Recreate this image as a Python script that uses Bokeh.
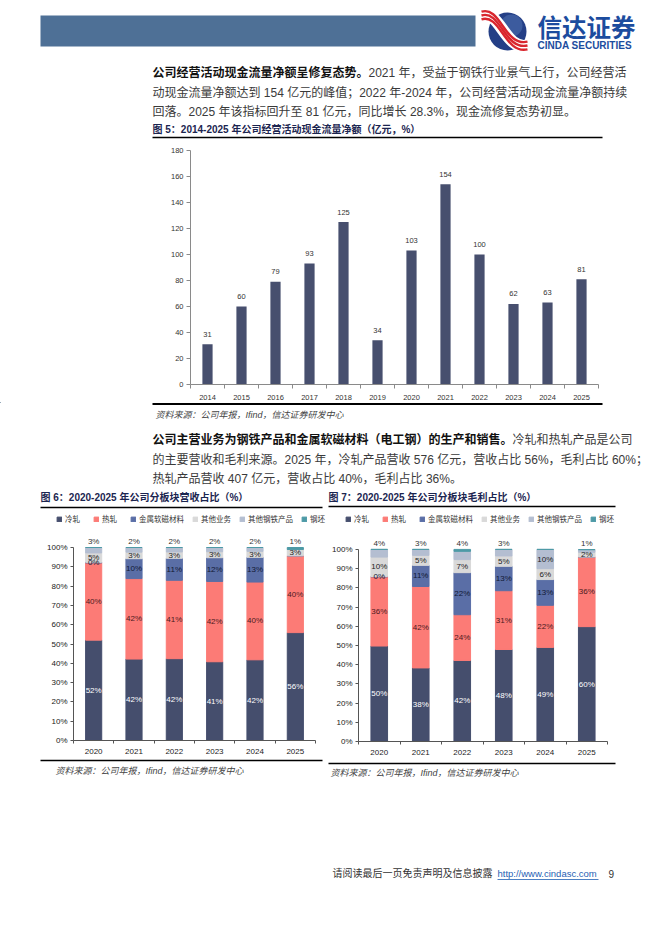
from bokeh.plotting import figure
from bokeh.layouts import column, row
from bokeh.models import (Range1d, FixedTicker, Legend, LegendItem,
                          ColumnDataSource, PrintfTickFormatter)
from bokeh.core.properties import value
from bokeh.embed import file_html
from bokeh.resources import INLINE

# ---------------- data ----------------
cf_years = ["2014", "2015", "2016", "2017", "2018", "2019",
            "2020", "2021", "2022", "2023", "2024", "2025"]
cf_values = [31, 60, 79, 93, 125, 34, 103, 154, 100, 62, 63, 81]

seg_names = ["冷轧", "热轧", "金属软磁材料", "其他业务", "其他钢铁产品", "钢坯"]
seg_keys = ["cold", "hot", "mag", "otherbiz", "othersteel", "billet"]
share_years = ["2020", "2021", "2022", "2023", "2024", "2025"]

rev_cold = [52.0, 42.2, 42.4, 40.8, 41.8, 55.9]
rev_hot = [40.0, 41.7, 40.6, 41.6, 40.3, 39.8]
rev_mag = [0.3, 10.3, 11.4, 12.3, 12.8, 0.0]
rev_otherbiz = [4.9, 3.4, 3.3, 3.1, 3.1, 3.3]
rev_othersteel = [2.8, 2.4, 2.3, 2.2, 2.0, 0.0]
rev_billet = [0.0, 0.0, 0.0, 0.0, 0.0, 1.0]

gp_cold = [49.7, 38.3, 42.2, 47.9, 49.0, 59.8]
gp_hot = [36.0, 42.4, 23.8, 30.6, 21.9, 36.3]
gp_mag = [0.2, 11.0, 21.9, 12.7, 13.4, 0.0]
gp_otherbiz = [10.1, 5.2, 6.8, 5.4, 5.7, 2.4]
gp_othersteel = [4.0, 3.1, 4.3, 3.4, 10.0, 1.4]
gp_billet = [0.0, 0.0, 1.0, 0.0, 0.0, 0.0]

para1 = [("公司经营活动现金流量净额呈修复态势。", "2021 年，受益于钢铁行业景气上行，公司经营活"),
         ("", "动现金流量净额达到 154 亿元的峰值；2022 年-2024 年，公司经营活动现金流量净额持续"),
         ("", "回落。2025 年该指标回升至 81 亿元，同比增长 28.3%，现金流修复态势初显。")]
para2 = [("公司主营业务为钢铁产品和金属软磁材料（电工钢）的生产和销售。", "冷轧和热轧产品是公司"),
         ("", "的主要营收和毛利来源。2025 年，冷轧产品营收 576 亿元，营收占比 56%，毛利占比 60%；"),
         ("", "热轧产品营收 407 亿元，营收占比 40%，毛利占比 36%。")]
title5 = "图 5：2014-2025 年公司经营活动现金流量净额（亿元，%）"
title6 = "图 6：2020-2025 年公司分板块营收占比（%）"
title7 = "图 7：2020-2025 年公司分板块毛利占比（%）"
source_txt = "资料来源：公司年报，Ifind，信达证券研发中心"
footer_txt = "请阅读最后一页免责声明及信息披露"
footer_url = "http://www.cindasc.com"
page_no = "9"

# ---------------- style ----------------
SANS = "Liberation Sans, Noto Sans CJK SC"
BAR = "#474f6e"
seg_colors = ["#454e6d", "#fc7b76", "#5a6ea6", "#d9d9d9", "#b4bed1", "#4d9aa6"]
seg_label_colors = ["#ffffff", "#4b1a1e", "#111833", "#222222", "#222222", "#222222"]
TITLE_C = "#1b2550"
W = 654


def no_align(p):
    try:
        p.frame_align = False
    except Exception:
        pass
    return p


def canvas(w, h):
    p = figure(width=w, height=h, x_range=Range1d(0, w), y_range=Range1d(h, 0),
               toolbar_location=None, output_backend="svg", min_border=0,
               x_axis_type=None, y_axis_type=None)
    p.outline_line_color = None
    return no_align(p)


def txt(p, x, y, s, size, color="#333333", style="normal", align="left"):
    p.text(x=[x], y=[y], text=[s], text_font=value(SANS),
           text_font_size=value(f"{size}px"), text_font_style=style,
           text_color=color, text_align=align, text_baseline="middle")


def hline(p, x0, x1, y, w=1.5, c="#000000"):
    p.segment(x0=[x0], y0=[y], x1=[x1], y1=[y], line_color=c, line_width=w)


def paragraph(p, lines, x, ys, fs):
    for (b, r), y in zip(lines, ys):
        if b:
            txt(p, x, y, b, fs, color="#111111", style="bold")
        txt(p, x + len(b) * fs, y, r, fs, color="#3a3a3a")


# ---------------- A: header + paragraph 1 + fig5 title (page y 0-142) ----------------
pa = canvas(W, 142)
pa.quad(left=[40], right=[475], top=[15], bottom=[46],
        fill_color="#4e7096", line_color=None)
cx, cy = 507, 31
pa.circle(x=[cx], y=[cy], radius=19, fill_color="#243f86", line_color=None)
pa.circle(x=[cx + 4], y=[cy - 6], radius=11, fill_color="#6a8fcc", fill_alpha=0.35, line_color=None)
bz = dict(x0=481, y0=15, x1=527, y1=45, cx0=500, cy0=9, cx1=504, cy1=50)
pa.bezier(x0=[bz["x0"]], y0=[bz["y0"]], x1=[bz["x1"]], y1=[bz["y1"]],
          cx0=[bz["cx0"]], cy0=[bz["cy0"]], cx1=[bz["cx1"]], cy1=[bz["cy1"]],
          line_color="#ffffff", line_width=12)
for dy in (-3.8, 0, 3.8):
    pa.bezier(x0=[bz["x0"]], y0=[bz["y0"] + dy], x1=[bz["x1"]], y1=[bz["y1"] + dy],
              cx0=[bz["cx0"]], cy0=[bz["cy0"] + dy], cx1=[bz["cx1"]], cy1=[bz["cy1"] + dy],
              line_color="#d9262e", line_width=2.4)
txt(pa, 537, 28, "信达证券", 24.5, color="#1c4c9e", style="bold")
txt(pa, 537, 44.5, "CINDA SECURITIES", 10, color="#1c4c9e", style="bold")
paragraph(pa, para1, 152, [72, 92, 111], 12)
txt(pa, 152, 129, title5, 10, color=TITLE_C, style="bold")
hline(pa, 152, 602, 137, 1.5)

# ---------------- B: chart 5 (page y 142-402) ----------------
idx5 = list(range(len(cf_years)))
p5 = figure(width=W, height=260, x_range=Range1d(-0.5, len(cf_years) - 0.5),
            y_range=Range1d(0, 180), toolbar_location=None, output_backend="svg",
            min_border_left=190, min_border_right=W - 598,
            min_border_top=8, min_border_bottom=18)
no_align(p5)
p5.outline_line_color = None
p5.grid.grid_line_color = None
p5.vbar(x=idx5, top=cf_values, width=0.3, fill_color=BAR, line_color=None)
p5.text(x=idx5, y=cf_values, text=[str(v) for v in cf_values], y_offset=-10,
        text_align="center", text_baseline="middle", text_font=value("Liberation Sans"),
        text_font_size=value("7.5px"), text_color="#333333")
p5.yaxis.ticker = FixedTicker(ticks=list(range(0, 181, 20)))
p5.xaxis.ticker = FixedTicker(ticks=idx5, minor_ticks=[i - 0.5 for i in range(len(cf_years) + 1)])
p5.xaxis.major_label_overrides = {i: y for i, y in zip(idx5, cf_years)}
for ax in (p5.xaxis[0], p5.yaxis[0]):
    ax.axis_line_color = "#8a8a8a"
    ax.major_label_text_font = "Liberation Sans"
    ax.major_label_text_font_size = "7.5px"
    ax.major_label_text_color = "#333333"
    ax.major_tick_in = 0
    ax.minor_tick_in = 0
p5.yaxis.major_tick_out = 4
p5.yaxis.major_tick_line_color = "#8a8a8a"
p5.yaxis.minor_tick_line_color = None
p5.yaxis.major_label_standoff = 3
p5.xaxis.major_tick_line_color = None
p5.xaxis.major_tick_out = 0
p5.xaxis.minor_tick_out = 4
p5.xaxis.minor_tick_line_color = "#8a8a8a"
p5.xaxis.major_label_standoff = 6

# ---------------- C: source + paragraph 2 + fig6/7 titles + legends (page y 402-530) ----------------
TC = 402
HC = 128
pc = canvas(W, HC)
hline(pc, 152, 602, 403.5 - TC, 2)
txt(pc, 155, 414 - TC, source_txt, 9, color="#444444", style="italic")
paragraph(pc, para2, 152, [439 - TC, 459 - TC, 478 - TC], 12)
txt(pc, 40, 497 - TC, title6, 10, color=TITLE_C, style="bold")
txt(pc, 328, 497 - TC, title7, 10, color=TITLE_C, style="bold")
hline(pc, 40, 322, 507 - TC, 1.5)
hline(pc, 328, 615, 506 - TC, 1.5)

# legend swatch renderers: one point each, placed outside the visible canvas
swatches = [pc.vbar(x=[-100], top=[-100], bottom=[-110], width=1, fill_color=c, line_color=c)
            for c in seg_colors]
for lx in (56, 345):
    leg = Legend(items=[LegendItem(label=nm, renderers=[r], index=0) for nm, r in zip(seg_names, swatches)],
                 orientation="horizontal", location=(lx, HC - (524 - TC)),
                 background_fill_alpha=0, border_line_color=None, padding=0, margin=0,
                 spacing=8, glyph_width=6, glyph_height=6, label_standoff=3,
                 label_height=8, label_text_font="Noto Sans CJK SC",
                 label_text_font_size="7.5px", label_text_color="#333333")
    pc.add_layout(leg)


# ---------------- D: share charts (page y 530-757) ----------------
def share_chart(fig_w, b_left, b_right, b_bottom, frame_h, px100, cols):
    H = 227
    n = len(share_years)
    idx = list(range(n))
    p = figure(width=fig_w, height=H, x_range=Range1d(-0.5, n - 0.5),
               y_range=Range1d(0, 100 * frame_h / px100), toolbar_location=None,
               output_backend="svg", min_border_left=b_left, min_border_right=b_right,
               min_border_top=H - b_bottom - frame_h, min_border_bottom=b_bottom)
    no_align(p)
    p.outline_line_color = None
    p.grid.grid_line_color = None
    data = dict(x=idx)
    for k, c in zip(seg_keys, cols):
        data[k] = c
    src = ColumnDataSource(data)
    p.vbar_stack(seg_keys, x="x", width=0.4, color=seg_colors, source=src)
    lx, ly, lt, lc = [], [], [], []
    ax_, at_ = [], []
    for i in idx:
        base = 0.0
        for k, c in enumerate(cols):
            v = c[i]
            if v > 0 and (k <= 3 or (k == 4 and v >= 5)):
                lx.append(i); ly.append(base + v / 2)
                lt.append(f"{round(v)}%"); lc.append(seg_label_colors[k])
            base += v
        if 0 < cols[4][i] < 5:
            ax_.append(i); at_.append(f"{round(cols[4][i])}%")
        elif cols[5][i] > 0:
            ax_.append(i); at_.append(f"{round(cols[5][i])}%")
    p.text(x=lx, y=ly, text=lt, text_color=lc, text_align="center", text_baseline="middle",
           text_font=value("Liberation Sans"), text_font_size=value("8px"))
    p.text(x=ax_, y=[100] * len(ax_), text=at_, y_offset=-6, text_color="#333333",
           text_align="center", text_baseline="middle",
           text_font=value("Liberation Sans"), text_font_size=value("8px"))
    p.yaxis.ticker = FixedTicker(ticks=list(range(0, 101, 10)))
    p.yaxis.formatter = PrintfTickFormatter(format="%d%%")
    p.yaxis.bounds = (0, 100)
    p.xaxis.ticker = FixedTicker(ticks=idx, minor_ticks=[i - 0.5 for i in range(n + 1)])
    p.xaxis.major_label_overrides = {i: y for i, y in zip(idx, share_years)}
    for ax in (p.xaxis[0], p.yaxis[0]):
        ax.axis_line_color = "#555555"
        ax.major_label_text_font = "Liberation Sans"
        ax.major_label_text_font_size = "8px"
        ax.major_label_text_color = "#222222"
        ax.major_tick_in = 0
        ax.minor_tick_in = 0
    p.yaxis.major_tick_out = 3
    p.yaxis.major_tick_line_color = "#555555"
    p.yaxis.minor_tick_line_color = None
    p.yaxis.major_label_standoff = 3
    p.xaxis.major_tick_line_color = None
    p.xaxis.major_tick_out = 0
    p.xaxis.minor_tick_out = 3
    p.xaxis.minor_tick_line_color = "#555555"
    p.xaxis.major_label_standoff = 5
    return p


p6 = share_chart(325, 73, 325 - 315, 757 - 740, 208, 193,
                 [rev_cold, rev_hot, rev_mag, rev_otherbiz, rev_othersteel, rev_billet])
p7 = share_chart(W - 325, 358 - 325, W - 607, 757 - 742, 210, 193,
                 [gp_cold, gp_hot, gp_mag, gp_otherbiz, gp_othersteel, gp_billet])

# ---------------- E: sources + footer (page y 757-900) ----------------
TE = 757
pe = canvas(W, 143)
hline(pe, 40, 322, 760 - TE, 1.5)
hline(pe, 328, 615, 763 - TE, 1.5)
txt(pe, 55, 770 - TE, source_txt, 9, color="#444444", style="italic")
txt(pe, 330, 772 - TE, source_txt, 9, color="#444444", style="italic")
txt(pe, 332, 873 - TE, footer_txt, 10, color="#333333")
txt(pe, 497, 873 - TE, footer_url, 9.5, color="#1f5fb4")
hline(pe, 497, 598, 879 - TE, 0.8, c="#1f5fb4")
txt(pe, 608, 873 - TE, page_no, 10, color="#333333")

layout = column(row(pa), row(p5), row(pc), row(p6, p7), row(pe))
open("out.html", "w").write(file_html(layout, INLINE))
